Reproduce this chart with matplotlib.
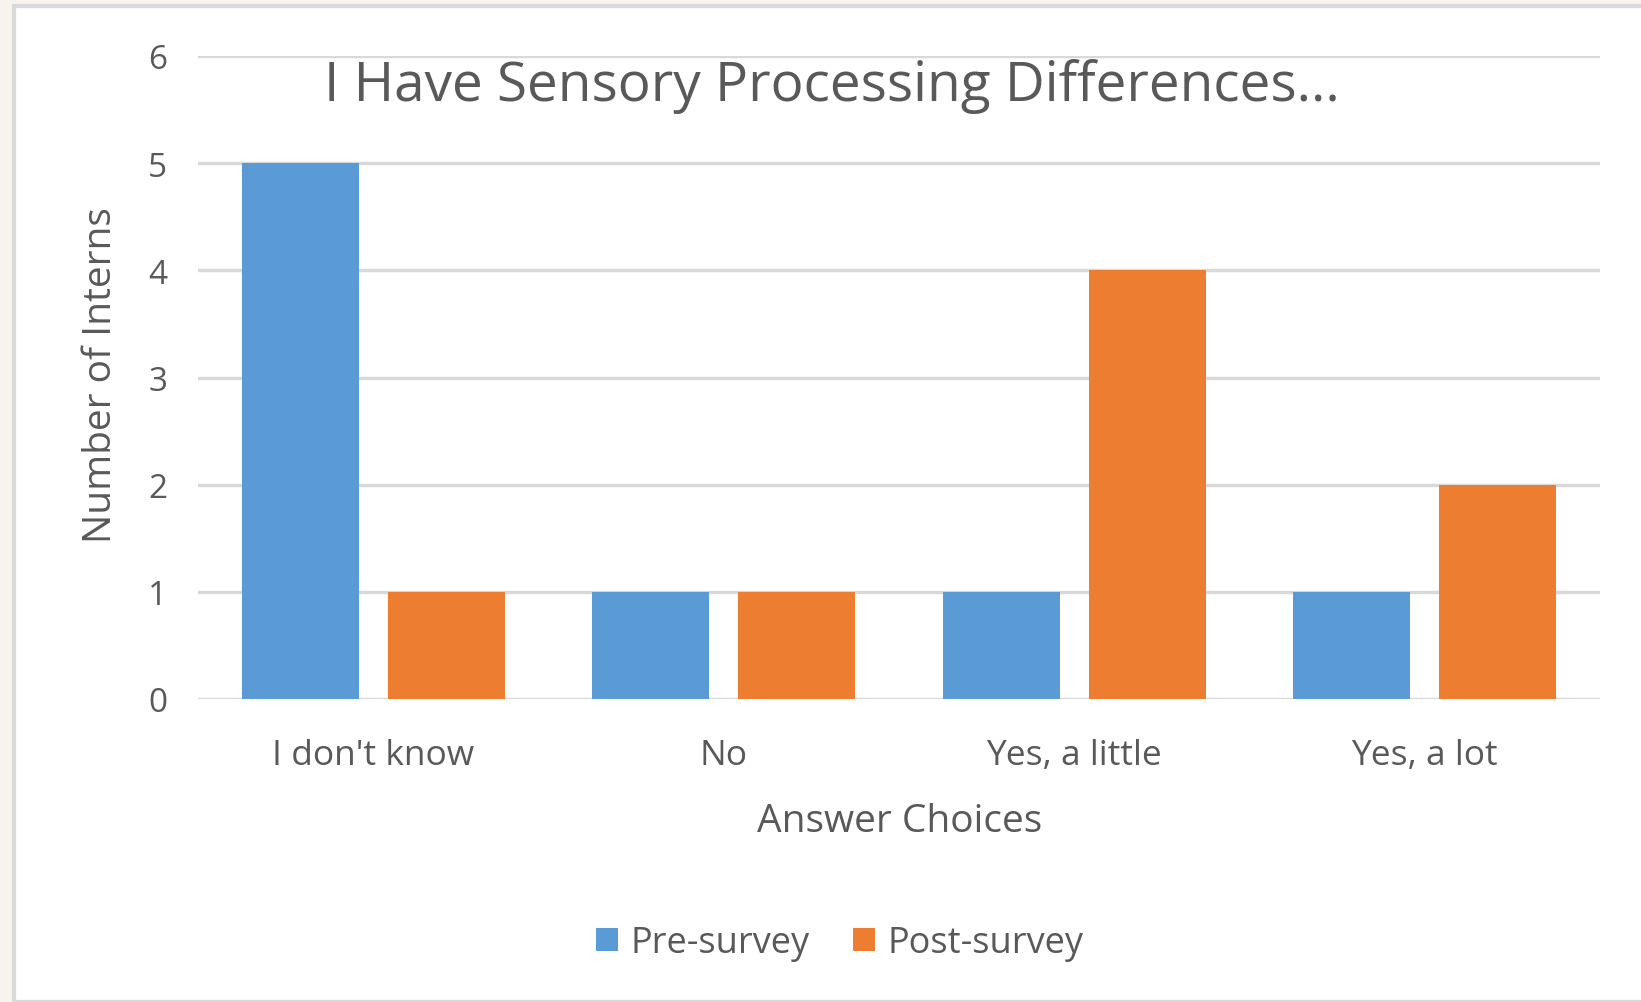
import matplotlib
matplotlib.use("Agg")
import matplotlib.pyplot as plt
from matplotlib.patches import Rectangle
import numpy as np

categories = ["I don't know", "No", "Yes, a little", "Yes, a lot"]
pre_survey = [5, 1, 1, 1]
post_survey = [1, 1, 4, 2]
series_names = ["Pre-survey", "Post-survey"]
yticks = [0, 1, 2, 3, 4, 5, 6]

W, H = 1641, 1003
DPI = 100
plt.rcParams['font.family'] = ['Open Sans', 'DejaVu Sans']
TXT = '#595959'

fig = plt.figure(figsize=(W / DPI, H / DPI), dpi=DPI)
fig.patch.set_facecolor('#F7F4EE')

# white chart area with grey frame
frame = Rectangle((14 / W, 0), 1.0, 1 - 7 / H, transform=fig.transFigure,
                  facecolor='white', edgecolor='#D9D9D9', linewidth=3.0, zorder=-10)
fig.patches.append(frame)

left, right = 198 / W, 1600 / W
top, bottom = 1 - 57 / H, 1 - 700 / H
ax = fig.add_axes([left, bottom, right - left, top - bottom])
ax.set_zorder(5)
ax.set_facecolor('none')

x = np.arange(len(categories))
bw = 0.334
off = 0.2085
ax.bar(x - off, pre_survey, width=bw, color='#5B9BD5', label=series_names[0], zorder=3)
ax.bar(x + off, post_survey, width=bw, color='#ED7D31', label=series_names[1], zorder=3)

ax.set_xlim(-0.5, len(categories) - 0.5)
ax.set_ylim(0, 6)
ax.set_yticks(yticks)
ax.set_yticklabels([str(v) for v in yticks])
ax.set_xticks(x)
ax.set_xticklabels(categories)
for s in ax.spines.values():
    s.set_visible(False)
ax.yaxis.grid(True, color='#D9D9D9', linewidth=2.5, zorder=0)
ax.set_axisbelow(True)
ax.tick_params(axis='y', length=0, colors=TXT, labelsize=24, pad=22)
ax.tick_params(axis='x', length=0, colors=TXT, labelsize=25.5, pad=28)

fig.text(101 / W, 1 - 375 / H, "Number of Interns", rotation=90, ha='center', va='center',
         fontsize=28, color=TXT)
fig.text(900 / W, 1 - 822 / H, "Answer Choices", ha='center', va='center',
         fontsize=28, color=TXT)
fig.text(832 / W, 1 - 87 / H, "I Have Sensory Processing Differences...", ha='center',
         va='center', fontsize=39.5, color=TXT)

leg = fig.legend(loc='center', bbox_to_anchor=(840 / W, 1 - 944 / H), ncol=2, frameon=False,
                 fontsize=26, handlelength=0.6, handleheight=0.6, handletextpad=0.35,
                 columnspacing=1.2)
for t in leg.get_texts():
    t.set_color(TXT)

fig.savefig("out.png", dpi=DPI, facecolor=fig.get_facecolor())
